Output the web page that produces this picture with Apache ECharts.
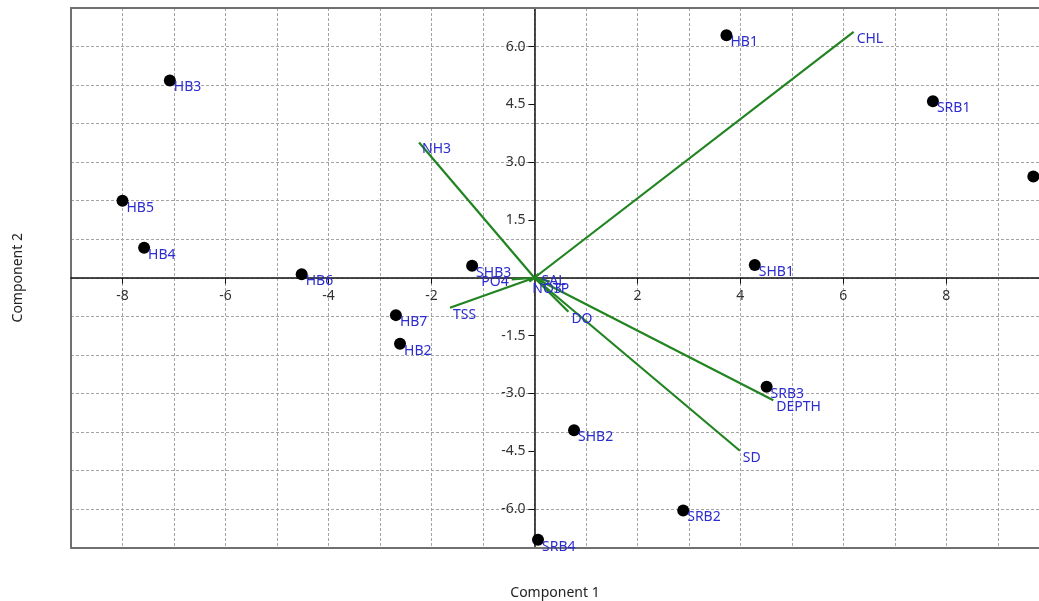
<!DOCTYPE html>
<html>
<head>
<meta charset="utf-8">
<script src="https://cdn.jsdelivr.net/npm/echarts@6/dist/echarts.min.js"></script>
<style>
html,body{margin:0;padding:0;background:#fff;}
#chart{width:1039px;height:601px;}
</style>
</head>
<body>
<div id="chart"></div>
<script>
// Sample scores
const sampleNames = ['HB1','HB2','HB3','HB4','HB5','HB6','HB7','SHB1','SHB2','SHB3','SRB1','SRB2','SRB3','SRB4','SRB5'];
const sampleX = [3.73,-2.61,-7.08,-7.58,-8.00,-4.52,-2.69,4.28,0.77,-1.21,7.74,2.89,4.51,0.07,9.69];
const sampleY = [6.29,-1.71,5.12,0.78,2.00,0.09,-0.97,0.33,-3.96,0.31,4.58,-6.04,-2.83,-6.80,2.63];

// Variable loadings (vector end points)
const varNames = ['CHL','NH3','TSS','PO4','SAL','NO3','TP','DO','DEPTH','SD'];
const varX = [6.20,-2.24,-1.64,-0.44,0.08,-0.10,0.30,0.66,4.64,3.99];
const varY = [6.38,3.51,-0.78,-0.04,0.10,-0.10,-0.10,-0.88,-3.18,-4.49];

// Tick labels
const xTickValues = [-8,-6,-4,-2,2,4,6,8];
const yTickValues = [-6,-4.5,-3,-1.5,1.5,3,4.5,6];

const X_MIN = -9, X_MAX = 9.8, Y_MIN = -7, Y_MAX = 7;
const GRID = {left:71, top:8, width:968, height:539.5};

const FONT = 'Noto Sans';
const labelBlue = '#2c2cd0';
const green = '#218421';
const borderCol = '#707070';

const chart = echarts.init(document.getElementById('chart'), null, {renderer:'canvas'});

const sampleData = sampleNames.map((n,i)=>{
  const d = {name:n, value:[sampleX[i], sampleY[i]]};
  if (n === 'SRB5') d.label = {show:false};
  return d;
});
const vecData = varNames.map((n,i)=>({coords:[[0,0],[varX[i], varY[i]]]}));
const vecLabelData = varNames.map((n,i)=>{
  const d = {name:n, value:[varX[i], varY[i]]};
  if (n === 'PO4') d.label = {position:[-3,3], align:'right'};
  return d;
});

// offsets that put the labelled axes on the zero lines
const xZeroOffset = -GRID.height * (0 - Y_MIN) / (Y_MAX - Y_MIN);
const yZeroOffset = -GRID.width * (0 - X_MIN) / (X_MAX - X_MIN);

const option = {
  animation:false,
  backgroundColor:'#ffffff',
  grid:{left:GRID.left, top:GRID.top, width:GRID.width, height:GRID.height, show:false,
        containLabel:false, outerBoundsMode:'none'},
  xAxis:[
    {type:'value', min:X_MIN, max:X_MAX, interval:1, position:'bottom',
     axisLine:{show:true, onZero:false, lineStyle:{color:borderCol, width:2}}, axisTick:{show:false}, axisLabel:{show:false},
     splitLine:{show:true, lineStyle:{type:[3,2], color:'#a4a4a4', width:1}},
     name:'Component 1', nameLocation:'middle', nameGap:39,
     nameTextStyle:{fontFamily:FONT, fontSize:14, color:'#222'}},
    {type:'value', min:X_MIN, max:X_MAX, position:'bottom', offset:xZeroOffset,
     axisLine:{show:true, onZero:false, lineStyle:{color:'#111', width:1.5}},
     axisTick:{show:true, length:6, customValues:xTickValues, lineStyle:{color:'#111'}},
     axisLabel:{show:true, customValues:xTickValues, margin:11, fontFamily:FONT, fontSize:14, color:'#333'},
     splitLine:{show:false}},
    {type:'value', min:X_MIN, max:X_MAX, position:'top',
     axisLine:{show:true, onZero:false, lineStyle:{color:borderCol, width:2}}, axisTick:{show:false}, axisLabel:{show:false},
     splitLine:{show:false}}
  ],
  yAxis:[
    {type:'value', min:Y_MIN, max:Y_MAX, interval:1, position:'left',
     axisLine:{show:true, onZero:false, lineStyle:{color:borderCol, width:2}}, axisTick:{show:false}, axisLabel:{show:false},
     splitLine:{show:true, lineStyle:{type:[3,2], color:'#a4a4a4', width:1}},
     name:'Component 2', nameLocation:'middle', nameGap:46,
     nameTextStyle:{fontFamily:FONT, fontSize:14, color:'#222'}},
    {type:'value', min:Y_MIN, max:Y_MAX, position:'left', offset:yZeroOffset,
     axisLine:{show:true, onZero:false, lineStyle:{color:'#111', width:1.5}},
     axisTick:{show:true, length:6, customValues:yTickValues, lineStyle:{color:'#111'}},
     axisLabel:{show:true, customValues:yTickValues, margin:9, fontFamily:FONT, fontSize:14, color:'#333',
       formatter:(v)=>Number(v).toFixed(1)},
     splitLine:{show:false}}
  ],
  series:[
    {type:'lines', coordinateSystem:'cartesian2d', xAxisIndex:0, yAxisIndex:0,
     polyline:false, data:vecData, symbol:'none',
     lineStyle:{color:green, width:2.2, opacity:1}, silent:true, z:3},
    {type:'scatter', xAxisIndex:0, yAxisIndex:0, data:vecLabelData, symbol:'circle', symbolSize:0,
     itemStyle:{opacity:1},
     label:{show:true, formatter:'{b}', position:[3,7], align:'left', verticalAlign:'middle',
       fontFamily:FONT, fontSize:14, color:labelBlue}, z:4},
    {type:'scatter', xAxisIndex:0, yAxisIndex:0, data:sampleData, symbol:'circle', symbolSize:12,
     itemStyle:{color:'#000', opacity:1},
     label:{show:true, formatter:'{b}', position:[10,13], align:'left', verticalAlign:'middle',
       fontFamily:FONT, fontSize:14, color:labelBlue}, z:5}
  ]
};
chart.setOption(option);
</script>
</body>
</html>
